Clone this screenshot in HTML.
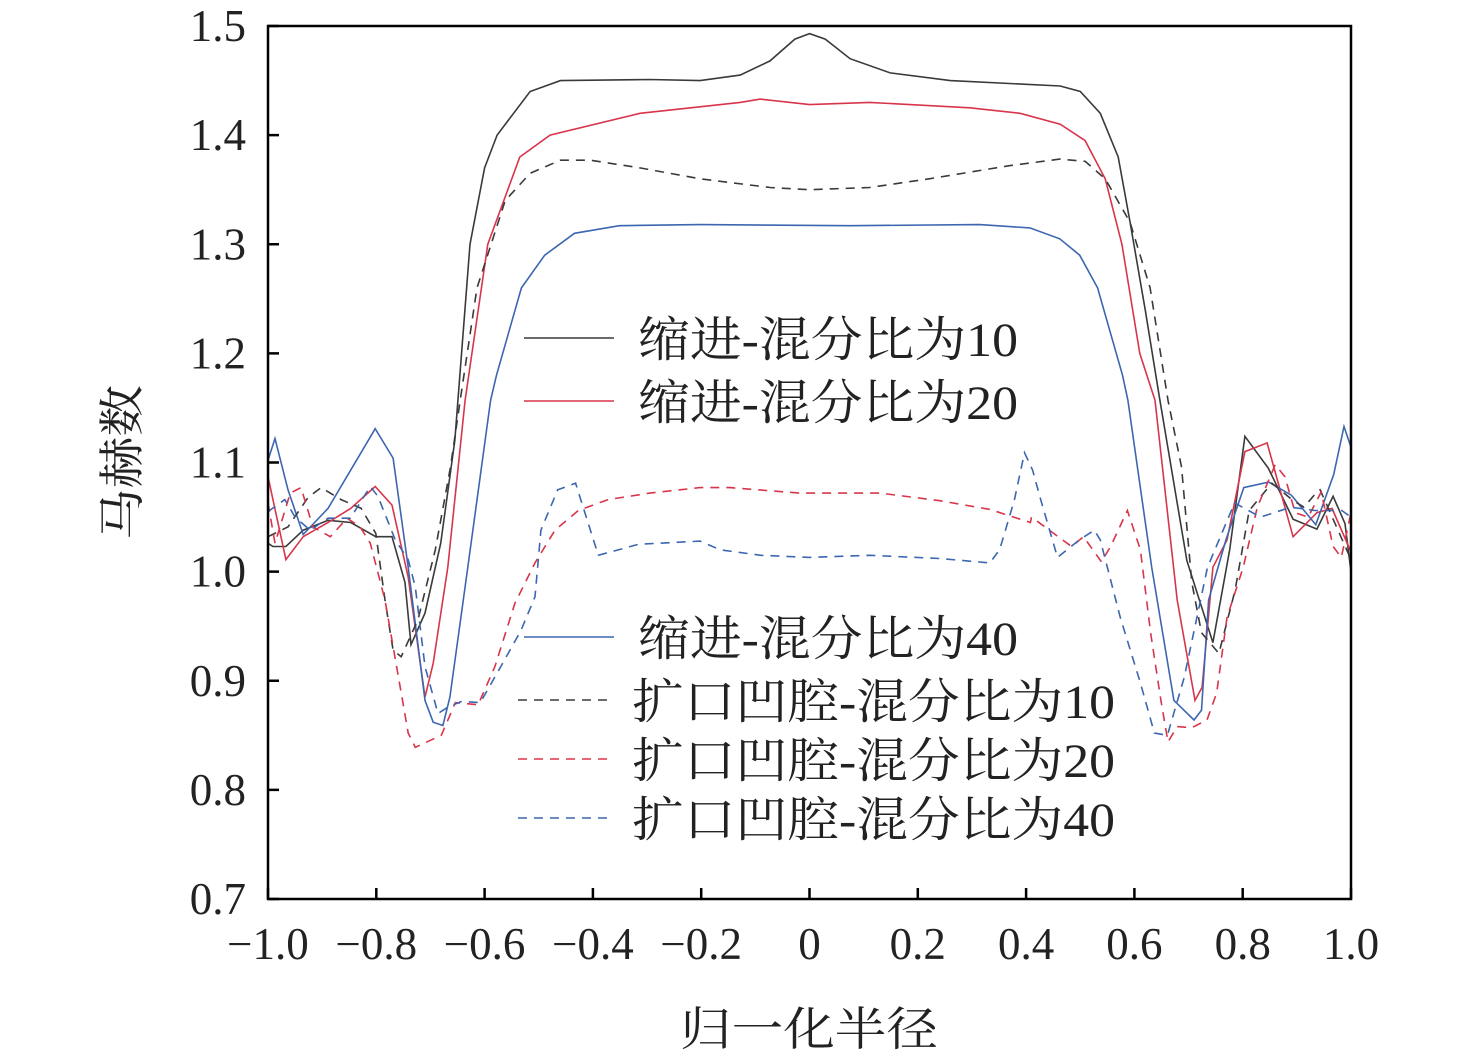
<!DOCTYPE html>
<html><head><meta charset="utf-8"><style>
body{margin:0;background:#fff}
svg{display:block}
text{font-family:"Liberation Serif","Noto Serif CJK SC",serif;fill:#222}
</style></head><body>
<svg id="chart" width="1476" height="1064">
</svg>
<script>
const xTicks=[-1,-0.8,-0.6,-0.4,-0.2,0,0.2,0.4,0.6,0.8,1];
const xTickLabels=["\u22121.0","\u22120.8","\u22120.6","\u22120.4","\u22120.2","0","0.2","0.4","0.6","0.8","1.0"];
const yTicks=[0.7,0.8,0.9,1.0,1.1,1.2,1.3,1.4,1.5];
const yTickLabels=["0.7","0.8","0.9","1.0","1.1","1.2","1.3","1.4","1.5"];
const seriesNames=["缩进-混分比为10","缩进-混分比为20","缩进-混分比为40","扩口凹腔-混分比为10","扩口凹腔-混分比为20","扩口凹腔-混分比为40"];
const s1x=[-1,-0.991,-0.967,-0.935,-0.889,-0.847,-0.801,-0.771,-0.747,-0.736,-0.71,-0.681,-0.655,-0.627,-0.6,-0.577,-0.516,-0.46,-0.295,-0.202,-0.128,-0.073,-0.027,0,0.029,0.075,0.149,0.26,0.463,0.5,0.537,0.57,0.592,0.62,0.647,0.697,0.745,0.776,0.804,0.847,0.893,0.937,0.967,0.989,1];
const s1y=[1.026,1.023,1.023,1.038,1.047,1.045,1.032,1.032,0.99,0.933,0.962,1.026,1.12,1.3,1.37,1.4,1.44,1.45,1.451,1.45,1.455,1.468,1.488,1.493,1.488,1.47,1.457,1.45,1.445,1.44,1.42,1.38,1.32,1.24,1.157,1.01,0.935,1.02,1.124,1.095,1.048,1.039,1.069,1.044,1.0];
const s2x=[-1,-0.967,-0.935,-0.889,-0.847,-0.802,-0.771,-0.741,-0.71,-0.695,-0.668,-0.636,-0.594,-0.535,-0.479,-0.313,-0.128,-0.091,0,0.111,0.296,0.389,0.463,0.509,0.546,0.577,0.61,0.638,0.679,0.712,0.725,0.745,0.771,0.804,0.845,0.893,0.937,0.965,1];
const s2y=[1.087,1.011,1.032,1.045,1.058,1.078,1.061,0.995,0.885,0.916,1.004,1.157,1.3,1.38,1.40,1.42,1.43,1.433,1.428,1.43,1.425,1.42,1.41,1.395,1.36,1.3,1.2,1.157,0.974,0.882,0.894,1.004,1.029,1.11,1.118,1.032,1.054,1.058,1.018];
const s3x=[-1,-0.987,-0.963,-0.935,-0.889,-0.802,-0.769,-0.741,-0.71,-0.695,-0.677,-0.664,-0.631,-0.589,-0.578,-0.532,-0.489,-0.434,-0.351,-0.203,0.074,0.314,0.407,0.462,0.499,0.532,0.578,0.588,0.632,0.673,0.71,0.724,0.737,0.769,0.802,0.848,0.89,0.935,0.968,0.987,1];
const s3y=[1.102,1.122,1.075,1.034,1.058,1.131,1.104,1.004,0.882,0.862,0.859,0.885,1.004,1.157,1.18,1.26,1.29,1.31,1.317,1.318,1.317,1.318,1.315,1.305,1.29,1.26,1.18,1.157,1.004,0.882,0.864,0.873,0.974,1.029,1.077,1.082,1.07,1.043,1.089,1.133,1.114];
const s4x=[-1,-0.963,-0.926,-0.902,-0.865,-0.828,-0.801,-0.784,-0.769,-0.754,-0.723,-0.691,-0.663,-0.645,-0.614,-0.562,-0.516,-0.46,-0.405,-0.313,-0.202,-0.073,0,0.111,0.221,0.369,0.462,0.509,0.546,0.592,0.629,0.662,0.687,0.706,0.724,0.756,0.786,0.812,0.854,0.891,0.913,0.937,0.943,1];
const s4y=[1.032,1.041,1.068,1.077,1.066,1.058,1.035,0.974,0.928,0.922,0.956,1.02,1.096,1.157,1.26,1.34,1.365,1.377,1.377,1.37,1.36,1.352,1.35,1.352,1.36,1.372,1.378,1.376,1.36,1.32,1.26,1.157,1.096,0.99,0.944,0.925,0.983,1.056,1.081,1.066,1.059,1.073,1.075,1.011];
const s5x=[-1,-0.987,-0.959,-0.939,-0.917,-0.885,-0.854,-0.83,-0.811,-0.784,-0.741,-0.728,-0.68,-0.654,-0.612,-0.581,-0.544,-0.507,-0.47,-0.427,-0.372,-0.295,-0.202,-0.147,-0.018,0.13,0.241,0.333,0.408,0.41,0.484,0.506,0.539,0.556,0.587,0.611,0.63,0.649,0.662,0.679,0.706,0.734,0.752,0.771,0.801,0.827,0.86,0.878,0.897,0.921,0.945,0.967,0.982,1];
const s5y=[1.063,1.026,1.072,1.077,1.041,1.032,1.049,1.041,1.026,0.974,0.852,0.839,0.85,0.88,0.878,0.913,0.971,1.008,1.038,1.056,1.066,1.072,1.077,1.077,1.072,1.072,1.065,1.057,1.045,1.05,1.023,1.032,1.009,1.023,1.056,1.02,0.944,0.882,0.844,0.858,0.857,0.864,0.889,0.958,1.004,1.059,1.098,1.087,1.054,1.05,1.073,1.023,1.013,1.054];
const s6x=[-1,-0.969,-0.95,-0.922,-0.889,-0.848,-0.811,-0.797,-0.765,-0.741,-0.728,-0.71,-0.686,-0.667,-0.643,-0.608,-0.57,-0.533,-0.507,-0.496,-0.465,-0.432,-0.39,-0.316,-0.202,-0.165,-0.09,0,0.111,0.24,0.333,0.351,0.378,0.397,0.412,0.427,0.458,0.498,0.526,0.537,0.574,0.611,0.637,0.661,0.692,0.735,0.785,0.833,0.889,0.933,0.983,1];
const s6y=[1.055,1.066,1.05,1.038,1.049,1.049,1.078,1.069,1.029,1.011,0.986,0.913,0.87,0.876,0.881,0.88,0.913,0.946,0.977,1.038,1.075,1.081,1.015,1.025,1.028,1.02,1.015,1.013,1.015,1.012,1.008,1.02,1.065,1.109,1.093,1.066,1.013,1.029,1.038,1.029,0.958,0.898,0.852,0.85,0.903,1.004,1.063,1.05,1.059,1.056,1.056,1.05];
const X0=268,X1=1351,Y0=899,Y1=26;
const sx=v=>X0+(v+1)/2*(X1-X0);
const sy=v=>Y0-(v-0.7)/0.8*(Y0-Y1);
const NS="http://www.w3.org/2000/svg";
const FONT='"Liberation Serif", "Times New Roman", "Noto Serif CJK SC", serif';
const svg=document.getElementById('chart');
function mk(tag,attrs,parent){const e=document.createElementNS(NS,tag);for(const k in attrs)e.setAttribute(k,attrs[k]);(parent||svg).appendChild(e);return e;}
const series=[[s1x,s1y,"#3a3a3a",""],[s2x,s2y,"#d8354b",""],[s3x,s3y,"#3d66b0",""],[s4x,s4y,"#3a3a3a","9,7"],[s5x,s5y,"#d8354b","9,7"],[s6x,s6y,"#3d66b0","9,7"]];
series.forEach((s,i)=>{
  const d=s[0].map((x,j)=>(j?'L':'M')+sx(x).toFixed(1)+','+sy(s[1][j]).toFixed(1)).join('');
  const p=mk('path',{d:d,fill:'none',stroke:s[2],'stroke-width':1.6,'stroke-dasharray':s[3]});
  
  
});
const fr=mk('rect',{x:X0,y:Y1,width:X1-X0,height:Y0-Y1,fill:'none',stroke:'#000','stroke-width':2.5});


xTicks.forEach((v,i)=>{
  const t=mk('line',{x1:sx(v),x2:sx(v),y1:Y0,y2:Y0-11,stroke:'#000','stroke-width':2.5});
  
  
  const l=mk('text',{x:sx(v),y:959,'text-anchor':'middle','font-size':45,'font-family':FONT});
  l.textContent=xTickLabels[i];
  
  
});
yTicks.forEach((v,i)=>{
  const t=mk('line',{x1:X0,x2:X0+11,y1:sy(v),y2:sy(v),stroke:'#000','stroke-width':2.5});
  
  
  const l=mk('text',{x:246,y:sy(v)+15,'text-anchor':'end','font-size':45,'font-family':FONT});
  l.textContent=yTickLabels[i];
  
  
});
const xt=mk('text',{x:680,y:1045,'font-size':46,textLength:258,lengthAdjust:'spacingAndGlyphs','font-family':FONT});
xt.textContent='归一化半径';


const yt=mk('text',{x:0,y:0,'font-size':46,textLength:155,lengthAdjust:'spacingAndGlyphs','font-family':FONT,transform:'translate(138,540) rotate(-90)'});
yt.textContent='马赫数';


const legY=[338,401,637,700,759,818];
const legX1=[524,524,524,518,518,518],legX2=[614,614,614,612,612,612],legTX=[638,638,638,632,632,632];
const legW=[380,380,380,483,483,483];
series.forEach((s,i)=>{
  const g=mk('g',{});
  
  
  mk('line',{x1:legX1[i],x2:legX2[i],y1:legY[i],y2:legY[i],stroke:s[2],'stroke-width':1.6,'stroke-dasharray':s[3]},g);
  const t=mk('text',{x:legTX[i],y:legY[i]+18,'font-size':48,textLength:legW[i],lengthAdjust:'spacingAndGlyphs','font-family':FONT},g);
  t.textContent=seriesNames[i];
});
</script>
</body></html>
